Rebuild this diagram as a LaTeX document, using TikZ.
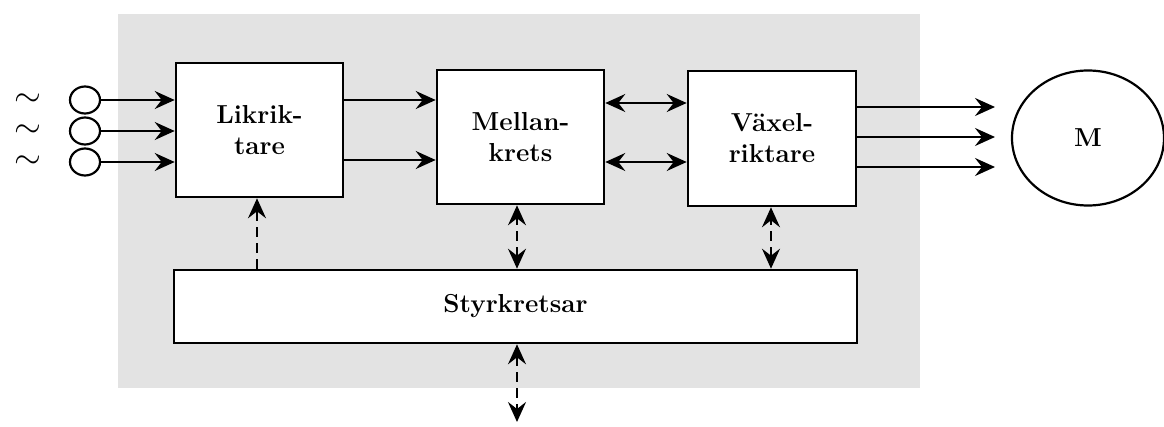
\documentclass[tikz,border=0pt]{standalone}
\usetikzlibrary{arrows.meta,shapes.geometric}
\begin{document}
\begin{tikzpicture}[x=0.5pt,y=-0.5pt,
  blk/.style={draw, line width=1.3pt, fill=white, inner sep=0pt, align=center,
    font=\fontsize{13}{15.5}\selectfont\bfseries},
  tip/.tip={Stealth[length=10pt,width=9pt,inset=3.5pt]},
  arr/.style={line width=1.1pt, -tip},
  darr/.style={line width=1.1pt, tip-tip},
  dashline/.style={dash pattern=on 5pt off 3pt},
  wave/.style={font=\fontsize{16}{16}\selectfont, inner sep=0pt, text height=3pt, text depth=0pt}]
\useasboundingbox (0,0) rectangle (1164,427);
\fill[gray!22] (118,14) rectangle (920,388);
% blocks
\node[blk, minimum width=83.5pt, minimum height=67pt] (L) at (259.5,130) {Likrik-\\tare};
\node[blk, minimum width=83.5pt, minimum height=67pt] (Mk) at (520.5,137) {Mellan-\\krets};
\node[blk, minimum width=84pt, minimum height=67.5pt] (V) at (772,138.5) {Växel-\\riktare};
\node[blk, minimum width=341.5pt, minimum height=36.5pt] (S) at (515.5,306.5) {Styrkretsar};
\node[blk, ellipse, minimum width=76pt, minimum height=67.5pt, line width=1.1pt] (Mot) at (1088,138) {M};
% inputs
\foreach \i/\y/\w in {1/100/104,2/131/135,3/162/166}{
  \node[wave] (t\i) at (28,\w) {$\sim$};
  \node[draw, ellipse, line width=1.1pt, minimum width=15pt, minimum height=13.5pt, inner sep=0pt] (c\i) at (85,\y) {};
  \draw[arr] (c\i.east) -- (c\i.east -| L.west);
}
% Likriktare -> Mellankrets
\draw[arr] (L.east |- 0,100) -- (Mk.west |- 0,100);
\draw[arr] (L.east |- 0,160) -- (Mk.west |- 0,160);
% Mellankrets <-> Vaxelriktare
\draw[darr] (Mk.east |- 0,103) -- (V.west |- 0,103);
\draw[darr] (Mk.east |- 0,162) -- (V.west |- 0,162);
% Vaxelriktare -> M
\coordinate (o1) at (995,107);
\coordinate (o2) at (995,137);
\coordinate (o3) at (995,167);
\draw[arr] (V.east |- o1) -- (o1);
\draw[arr] (V.east |- o2) -- (o2);
\draw[arr] (V.east |- o3) -- (o3);
% vertical dashed connections
\draw[arr, dashline] (S.north -| 257,0) -- (L.south -| 257,0);
\draw[darr, dashline] (S.north -| 517,0) -- (Mk.south -| 517,0);
\draw[darr, dashline] (S.north -| 771,0) -- (V.south -| 771,0);
\coordinate (ext) at (517,422);
\draw[darr, dashline] (S.south -| ext) -- (ext);
\end{tikzpicture}
\end{document}
